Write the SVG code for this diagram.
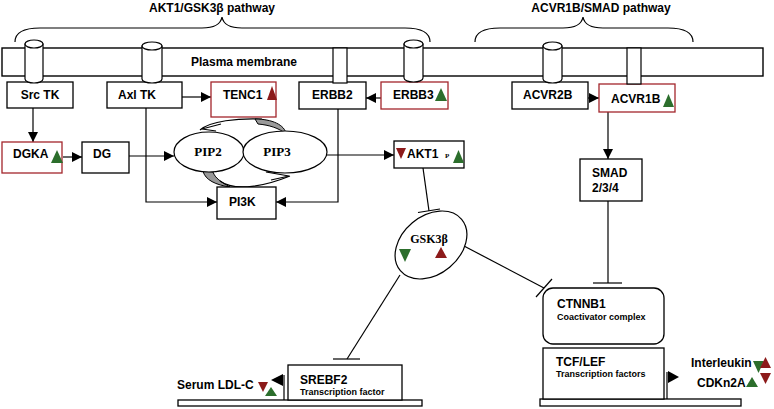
<svg xmlns="http://www.w3.org/2000/svg" width="774" height="409" viewBox="0 0 774 409">
<style>
text{font-family:"Liberation Sans",Arial,sans-serif;font-weight:bold;fill:#000}
.t{font-size:12px}
.s{font-size:9px}
.serif{font-family:"Liberation Serif","Times New Roman",serif;font-weight:bold}
.box{fill:#fff;stroke:#000;stroke-width:1.3}
.rbox{fill:#fff;stroke:#a3262b;stroke-width:1.3}
.cyl{fill:#fff;stroke:#000;stroke-width:1.2}
.ln{fill:none;stroke:#000;stroke-width:1.2}
.gr{fill:#2c6e2c}
.rd{fill:#8c1a1a}
.brace{fill:none;stroke:#000;stroke-width:1.2}
</style>
<defs>
<marker id="ah" markerUnits="userSpaceOnUse" markerWidth="11" markerHeight="11" refX="10" refY="5" orient="auto">
<path d="M0,0 L10,5 L0,10 Z" fill="#000"/>
</marker>
</defs>
<rect width="774" height="409" fill="#fff"/>

<g id="pathway-labels">
<path class="brace" d="M15,42 Q15,28 40,28 L202,28 Q220,28 222,17 Q224,28 242,28 L405,28 Q430,28 430,42"/>
<text class="t" x="212" y="12" text-anchor="middle">AKT1/GSK3β pathway</text>
<path class="brace" d="M475,42 Q475,28 500,28 L563,28 Q581,28 583,17 Q585,28 603,28 L668,28 Q693,28 693,42"/>
<text class="t" x="601" y="12" text-anchor="middle">ACVR1B/SMAD pathway</text>
</g>

<g id="membrane">
<rect x="2" y="48" width="761" height="28" fill="#fff" stroke="#000" stroke-width="1.4"/>
<text class="t" x="244" y="66" text-anchor="middle">Plasma membrane</text>
</g>

<g id="connectors">
<line class="ln" x1="33" y1="108" x2="33" y2="142" marker-end="url(#ah)"/>
<line class="ln" x1="63" y1="157" x2="82" y2="157" marker-end="url(#ah)"/>
<line class="ln" x1="129" y1="156" x2="174" y2="156" marker-end="url(#ah)"/>
<line class="ln" x1="182" y1="97" x2="211" y2="97" marker-end="url(#ah)"/>
<path class="ln" d="M146,108 V202 H217" marker-end="url(#ah)"/>
<path class="ln" d="M338,109 V202 H276" marker-end="url(#ah)"/>
<line class="ln" x1="327" y1="155" x2="394" y2="155" marker-end="url(#ah)"/>
<line class="ln" x1="381" y1="98" x2="366" y2="98" marker-end="url(#ah)"/>
<line class="ln" x1="588" y1="98" x2="599" y2="98" marker-end="url(#ah)"/>
<line class="ln" x1="608" y1="112" x2="608" y2="159" marker-end="url(#ah)"/>
<line class="ln" x1="608" y1="201" x2="608" y2="283"/>
<line class="ln" x1="593" y1="283" x2="622" y2="283"/>
<line class="ln" x1="423" y1="168" x2="429" y2="211"/>
<line class="ln" x1="418" y1="212.5" x2="440" y2="209"/>
<line class="ln" x1="464" y1="246" x2="544" y2="288"/>
<line class="ln" x1="536" y1="297" x2="552" y2="279"/>
<line class="ln" x1="400" y1="275" x2="347" y2="359"/>
<line class="ln" x1="333" y1="359" x2="360" y2="359"/>
<!-- PIP cycle arrows -->
<path class="ln" d="M200,130 C210,121 238,118 262,119"/>
<path d="M255,119 C272,119 285,125 286,134 C279,128 269,125 258,124 Z" fill="#999" stroke="#000" stroke-width="1"/>
<polyline class="ln" points="221,124 202,129 216,131"/>
<path d="M203,171 C205,180 216,185 230,187 C221,182 215,178 213,172 Z" fill="#999" stroke="#000" stroke-width="1"/>
<path class="ln" d="M220,181 C232,190 258,189 290,176"/>
<polyline class="ln" points="266,172 289,176 271,180"/>
</g>

<g id="src-tk">
<rect class="box" x="7" y="82" width="66" height="26"/>
<text class="t" x="40" y="99" text-anchor="middle">Src TK</text>
<path class="cyl" d="M25,44 V79 A9,4 0 0 0 43,79 V44 Z"/>
<ellipse class="cyl" cx="34" cy="44" rx="9" ry="4"/>
</g>

<g id="axl-tk">
<rect class="box" x="107" y="82" width="75" height="26"/>
<text class="t" x="118" y="99">Axl TK</text>
<path class="cyl" d="M142,46 V79 A10,4 0 0 0 162,79 V46 Z"/>
<ellipse class="cyl" cx="152" cy="46" rx="10" ry="4"/>
</g>

<g id="tenc1">
<rect class="rbox" x="211" y="82" width="65" height="35"/>
<text class="t" x="223" y="99">TENC1</text>
<polygon class="rd" points="267,100 272,86 277,100"/>
</g>

<g id="erbb2">
<rect class="box" x="299" y="82" width="67" height="27"/>
<text class="t" x="312" y="99">ERBB2</text>
<rect class="cyl" x="333" y="48" width="14" height="35"/>
</g>

<g id="erbb3">
<rect class="rbox" x="381" y="82" width="67" height="27"/>
<text class="t" x="393" y="99">ERBB3</text>
<polygon class="gr" points="435,101 441,88 447,101"/>
<path class="cyl" d="M404,44 V78 A9.5,4 0 0 0 423,78 V44 Z"/>
<ellipse class="cyl" cx="413.5" cy="44" rx="9.5" ry="4"/>
</g>

<g id="acvr2b">
<rect class="box" x="512" y="82" width="76" height="27"/>
<text class="t" x="523" y="99">ACVR2B</text>
<path class="cyl" d="M543,46 V79 A9.5,4 0 0 0 562,79 V46 Z"/>
<ellipse class="cyl" cx="552.5" cy="46" rx="9.5" ry="4"/>
</g>

<g id="acvr1b">
<rect class="rbox" x="599" y="84" width="76" height="28"/>
<text class="t" x="611" y="103">ACVR1B</text>
<polygon class="gr" points="663,107 668.5,94 674,107"/>
<rect class="cyl" x="627" y="48" width="14" height="36"/>
</g>

<g id="dgka">
<rect class="rbox" x="2" y="142" width="60" height="31"/>
<text class="t" x="13" y="158">DGKA</text>
<polygon class="gr" points="51,163 57,150 63,163"/>
</g>

<g id="dg">
<rect class="box" x="82" y="142" width="47" height="31"/>
<text class="t" x="93" y="158">DG</text>
</g>

<g id="pip2">
<ellipse class="cyl" cx="209" cy="152" rx="35" ry="20"/>
<text class="serif" font-size="13" x="208" y="156" text-anchor="middle">PIP2</text>
</g>

<g id="pip3">
<ellipse class="cyl" cx="285" cy="152" rx="42" ry="21"/>
<text class="serif" font-size="13" x="277" y="156" text-anchor="middle">PIP3</text>
</g>

<g id="pi3k">
<rect class="box" x="217" y="187" width="59" height="32"/>
<text class="t" x="229" y="206">PI3K</text>
</g>

<g id="akt1">
<rect class="box" x="394" y="141" width="70" height="27"/>
<polygon class="rd" points="396,148 406,148 401,159"/>
<text class="t" x="407" y="158">AKT1</text>
<text font-size="7" x="445" y="158" class="serif">P</text>
<polygon class="gr" points="453,163 458.5,150 464,163"/>
</g>

<g id="smad">
<rect class="box" x="580" y="159" width="62" height="42"/>
<text class="t" x="592" y="177">SMAD</text>
<text class="t" x="592" y="192">2/3/4</text>
</g>

<g id="gsk3b">
<ellipse class="cyl" cx="431" cy="245" rx="40" ry="29" transform="rotate(-40 431 245)"/>
<text class="serif" font-size="12" x="429" y="243" text-anchor="middle">GSK3β</text>
<polygon class="gr" points="399,249 411,249 405,262"/>
<polygon class="rd" points="435,258 441,247 447,258"/>
</g>

<g id="ctnnb1">
<rect class="box" x="543" y="288" width="121" height="56" rx="10"/>
<text class="t" x="557" y="308">CTNNB1</text>
<text class="s" x="557" y="320">Coactivator complex</text>
</g>

<g id="tcf-lef">
<rect class="box" x="540" y="399" width="201" height="7"/>
<rect class="box" x="543" y="348" width="121" height="51"/>
<text class="t" x="556" y="366">TCF/LEF</text>
<text class="s" x="556" y="377">Transcription factors</text>
<line class="ln" x1="667" y1="372" x2="667" y2="399"/>
<polygon points="668,371 679,377 668,383" fill="#000"/>
</g>

<g id="srebf2">
<rect class="box" x="178" y="400" width="244" height="6"/>
<rect class="box" x="288" y="365" width="114" height="35"/>
<text class="t" x="300" y="384">SREBF2</text>
<text class="s" x="300" y="395">Transcription factor</text>
<line class="ln" x1="284" y1="375" x2="284" y2="400"/>
<polygon points="271,380 283,374 283,386" fill="#000"/>
</g>

<g id="serum-ldl-c">
<text class="t" x="177" y="389">Serum LDL-C</text>
<polygon class="rd" points="258,382 268,382 263,392"/>
<polygon class="gr" points="265,396 271,387 277,396"/>
</g>

<g id="interleukin">
<text class="t" x="691" y="367">Interleukin</text>
<polygon class="gr" points="753,361 764,361 758.5,373"/>
<polygon class="rd" points="760,368 765.5,357 771,368"/>
</g>

<g id="cdkn2a">
<text class="t" x="697" y="387">CDKn2A</text>
<polygon class="gr" points="746,387 752,377 758,387"/>
<polygon class="rd" points="760,373 771,373 765.5,384"/>
</g>
</svg>
